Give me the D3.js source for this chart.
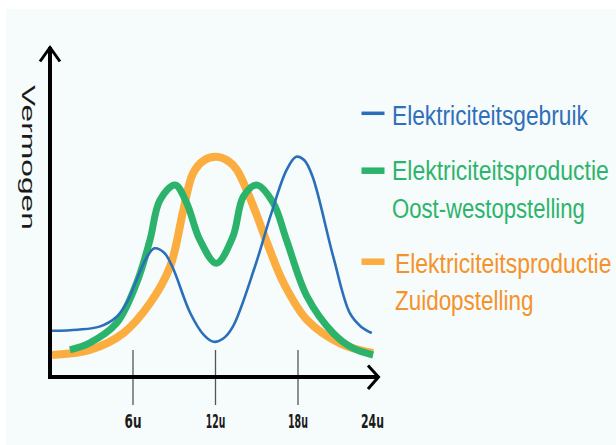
<!DOCTYPE html>
<html>
<head>
<meta charset="utf-8">
<script src="https://cdn.jsdelivr.net/npm/d3@7"></script>
<style>
  html, body { margin: 0; padding: 0; background: #ffffff; }
  svg { display: block; }
</style>
</head>
<body>
<svg id="chart" width="616" height="445"></svg>
<script>
// ---- data (hours of the day, relative power 0..100) ----
const gebruikHours  = [0.15, 2.0, 3.6, 4.85, 5.6, 6.3, 7.0, 7.6, 8.3, 8.9, 10.2, 11.2, 11.9, 12.6, 13.3, 14.9, 16.1, 17.2, 17.9, 18.5, 19.1, 20.6, 21.8, 22.6, 23.4];
const gebruikValues = [21.0, 21.5, 22.9, 27.4, 34.0, 44.1, 54.0, 58.5, 56.5, 50.1, 29.1, 19.0, 16.0, 17.5, 22.9, 50.1, 74.5, 94.0, 100.1, 98.5, 91.0, 54.7, 29.1, 23.0, 20.0];

const oostWestHours  = [1.45, 2.9, 4.85, 6.3, 7.27, 8.0, 9.1, 9.94, 10.9, 12.1, 13.3, 14.06, 15.03, 16.24, 17.2, 18.7, 20.6, 22.0, 23.5];
const oostWestValues = [12.3, 15.5, 24.5, 42.7, 62.3, 80.5, 87.3, 79.1, 62.3, 51.7, 63.8, 82.0, 87.3, 79.1, 62.3, 36.5, 19.9, 13.2, 10.0];

const zuidHours  = [0.15, 2.9, 5.33, 7.27, 8.73, 9.7, 10.4, 11.2, 12.1, 13.0, 13.6, 14.8, 15.8, 17.0, 18.7, 21.1, 23.5];
const zuidValues = [10.0, 12.3, 19.9, 33.5, 50.1, 75.9, 92.6, 98.5, 100.1, 98.0, 94.1, 77.4, 60.8, 42.6, 25.9, 15.3, 10.8];

const tickHours  = [6, 12, 18, 24];
const tickLabels = ["6u", "12u", "18u", "24u"];

const legendTexts = [
  ["Elektriciteitsgebruik"],
  ["Elektriciteitsproductie", "Oost-westopstelling"],
  ["Elektriciteitsproductie", "Zuidopstelling"]
];
const yLabel = "Vermogen";

// ---- layout / style ----
const svg = d3.select("#chart");
const x = d3.scaleLinear().domain([0, 24]).range([50, 380]);
const y = d3.scaleLinear().domain([0, 100]).range([377, 157]);
const FONT = "Liberation Sans, Arial, sans-serif";

// squeeze/stretch a text horizontally (along its baseline) to a target width
function fitWidth(sel, target) {
  sel.each(function () {
    const t = d3.select(this);
    const w = this.getComputedTextLength();
    const s = target / w;
    const x0 = +t.attr("x") || 0, y0 = +t.attr("y") || 0;
    t.attr("transform", `translate(${x0},${y0}) scale(${s},1) translate(${-x0},${-y0})`);
  });
}

svg.append("rect").attr("x", 6).attr("y", 9).attr("width", 610).attr("height", 436).attr("fill", "#f6fbfb");

const line = d3.line().curve(d3.curveCatmullRom.alpha(0.5)).x(d => x(d[0])).y(d => y(d[1]));
const zip = (a, b) => a.map((h, i) => [h, b[i]]);

// axes ticks via d3 axis
const axisG = svg.append("g").attr("transform", "translate(0,350)")
  .call(d3.axisBottom(x).tickValues(tickHours).tickSize(55).tickPadding(11)
    .tickFormat((d, i) => tickLabels[i]));
axisG.select(".domain").remove();
axisG.selectAll(".tick line").attr("stroke", "#555").attr("stroke-width", 1.3)
  .filter(d => d === 24).remove();
const tickWidths = [17, 19.5, 20, 23];
axisG.selectAll(".tick text")
  .attr("fill", "#1a1a1a")
  .attr("font-family", "DejaVu Sans, sans-serif")
  .attr("font-weight", "bold")
  .attr("font-size", 20)
  .attr("dy", null)
  .attr("y", 78.5)
  .attr("x", d => d === 24 ? -8 : 0)
  .each(function (d, i) { fitWidth(d3.select(this), tickWidths[i]); });

// curves
svg.append("path").attr("d", line(zip(zuidHours, zuidValues)))
  .attr("fill", "none").attr("stroke", "#fbad3f").attr("stroke-width", 8).attr("stroke-linecap", "butt");
svg.append("path").attr("d", line(zip(oostWestHours, oostWestValues)))
  .attr("fill", "none").attr("stroke", "#2bb36b").attr("stroke-width", 7).attr("stroke-linecap", "butt");
svg.append("path").attr("d", line(zip(gebruikHours, gebruikValues)))
  .attr("fill", "none").attr("stroke", "#2a6fba").attr("stroke-width", 2.6);

// axis lines with arrows
const ax = svg.append("g").attr("fill", "none").attr("stroke", "#000");
ax.append("path").attr("d", `M${x(0)},${y(0) + 2}V47`).attr("stroke-width", 4);
ax.append("path").attr("d", `M${x(0) - 2},${y(0)}H379`).attr("stroke-width", 4);
ax.append("path").attr("d", `M40,61.5L50,47.5L60,61.5`).attr("stroke-width", 3).attr("stroke-linejoin", "miter");
ax.append("path").attr("d", `M368,365.5L378.5,377L368,389`).attr("stroke-width", 3).attr("stroke-linejoin", "miter");

// y label (stretched along the reading direction)
const yl = svg.append("g").attr("transform", "translate(22,157.5) rotate(90)");
const ylt = yl.append("text").attr("x", 0).attr("y", 0)
  .attr("text-anchor", "middle")
  .attr("font-family", FONT)
  .attr("font-size", 18).attr("fill", "#1a1a1a")
  .text(yLabel);
fitWidth(ylt, 145);

// legend
const legendColors = ["#2a6fba", "#2bb36b", "#fbad3f"];
const legendTextColors = ["#2f6fbb", "#2db46c", "#f5922a"];
const legendStroke = [3.5, 6.5, 6.5];
const legendY = [113.3, 170.7, 261.7];
const legendTextX = [392, 392, 395];
const legendBase = [[125], [180, 218.3], [273.3, 310]];
const legendWidths = [[196], [217, 193], [216.5, 138.5]];
legendTexts.forEach((lines, i) => {
  svg.append("line").attr("x1", 361.5).attr("x2", 384.5)
    .attr("y1", legendY[i]).attr("y2", legendY[i])
    .attr("stroke", legendColors[i]).attr("stroke-width", legendStroke[i]);
  lines.forEach((t, j) => {
    const tx = svg.append("text").attr("x", legendTextX[i]).attr("y", legendBase[i][j])
      .attr("font-family", FONT)
      .attr("font-size", 27).attr("fill", legendTextColors[i])
      .text(t);
    fitWidth(tx, legendWidths[i][j]);
  });
});
</script>
</body>
</html>
